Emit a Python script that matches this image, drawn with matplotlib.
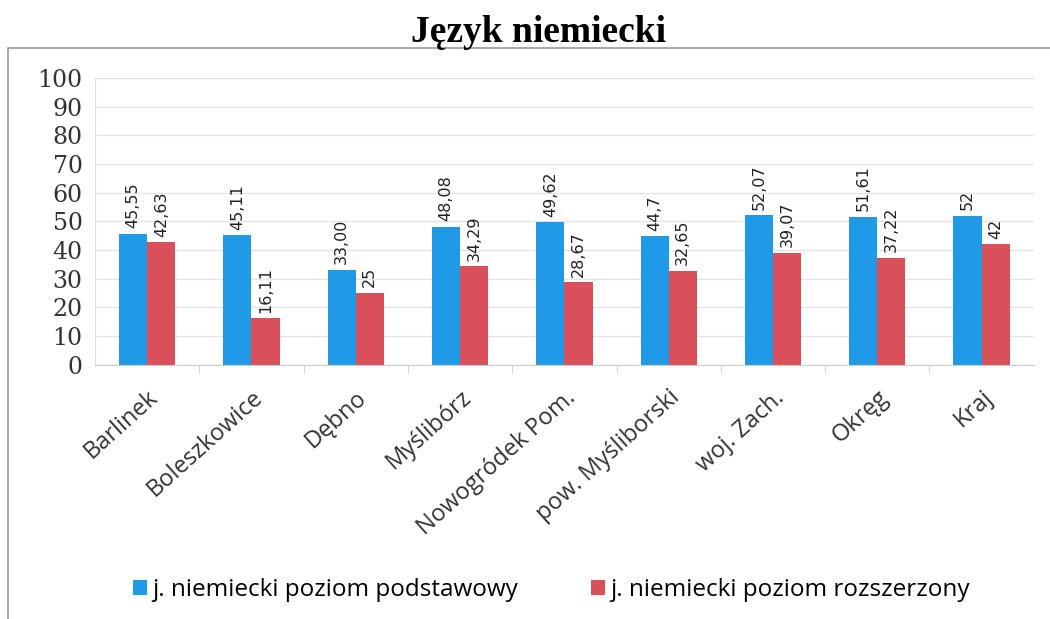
import numpy as np
import matplotlib.pyplot as plt
from matplotlib.patches import Rectangle

# ---- Data ---- #
categories = ["Barlinek", "Boleszkowice", "Dębno", "Myślibórz", "Nowogródek Pom.",
              "pow. Myśliborski", "woj. Zach.", "Okręg", "Kraj"]
basic = [45.55, 45.11, 33.00, 48.08, 49.62, 44.7, 52.07, 51.61, 52]
extended = [42.63, 16.11, 25, 34.29, 28.67, 32.65, 39.07, 37.22, 42]
basic_labels = ["45,55", "45,11", "33,00", "48,08", "49,62", "44,7", "52,07", "51,61", "52"]
extended_labels = ["42,63", "16,11", "25", "34,29", "28,67", "32,65", "39,07", "37,22", "42"]
series_names = ["j. niemiecki poziom podstawowy", "j. niemiecki poziom rozszerzony"]
title = "Język niemiecki"

blue = "#1f9ae6"
red = "#d94f5a"

fig = plt.figure(figsize=(10.5, 6.19), dpi=100)

# outer chart frame (runs off the right and bottom edges like the scan)
fig.patches.append(Rectangle((0.008, -0.1), 1.2, 1.022, transform=fig.transFigure,
                             fill=False, edgecolor="#9a9a9a", linewidth=1.2))

fig.text(0.513, 0.947, title, ha="center", va="center", fontsize=27,
         fontweight="bold", family="Liberation Serif")

ax = fig.add_axes([0.0905, 0.411, 0.894, 0.463])

x = np.arange(len(categories))
w = 0.27
b1 = ax.bar(x - w / 2, basic, w, color=blue, label=series_names[0])
b2 = ax.bar(x + w / 2, extended, w, color=red, label=series_names[1])

ax.bar_label(b1, labels=basic_labels, rotation=90, padding=4, fontsize=11.5,
             family="DejaVu Sans", color="#222222")
ax.bar_label(b2, labels=extended_labels, rotation=90, padding=4, fontsize=11.5,
             family="DejaVu Sans", color="#222222")

ax.set_ylim(0, 100)
ax.set_xlim(-0.5, len(categories) - 0.5)
ax.set_yticks(np.arange(0, 101, 10))
ax.yaxis.grid(True, color="#e4e4e4", linewidth=1)
ax.set_axisbelow(True)
for lab in ax.get_yticklabels():
    lab.set_family("DejaVu Serif")
    lab.set_fontsize(17)
    lab.set_color("#333333")
ax.tick_params(axis="y", length=0, pad=9)

ax.set_xticks(x)
ax.set_xticklabels(categories, rotation=42, ha="right", rotation_mode="anchor",
                   fontsize=17, family="Open Sans", color="#333333")
ax.tick_params(axis="x", length=0, pad=15)
ax.set_xticks(np.arange(0.5, len(categories) - 0.5, 1), minor=True)
ax.tick_params(axis="x", which="minor", length=6, color="#cccccc")

for s in ["top", "right"]:
    ax.spines[s].set_visible(False)
ax.spines["left"].set_color("#dddddd")
ax.spines["bottom"].set_color("#cccccc")

fig.legend(handles=[b1, b2], loc="center", bbox_to_anchor=(0.525, 0.047), ncol=2,
           frameon=False, handlelength=0.6, handleheight=0.6,
           handletextpad=0.2, columnspacing=3.0,
           prop={"family": "Open Sans", "size": 17.5})

fig.savefig("out.png", dpi=100)
